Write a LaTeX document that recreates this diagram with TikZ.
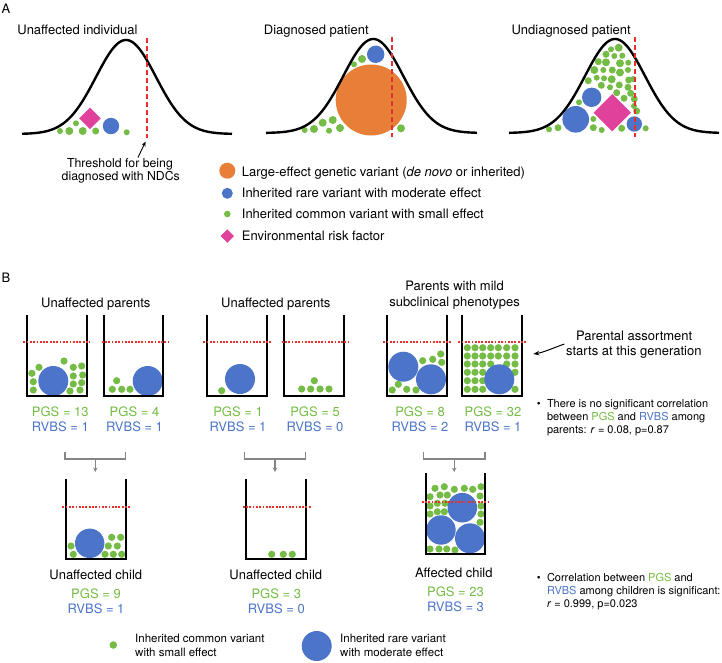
\documentclass[tikz,border=0pt]{standalone}
\usepackage{fontspec}
\setmainfont{TeX Gyre Heros}
\usetikzlibrary{arrows.meta}
\definecolor{vgreen}{HTML}{74BC45}
\definecolor{vblue}{HTML}{4C74C9}
\definecolor{vorange}{HTML}{E87F38}
\definecolor{vmag}{HTML}{E0429B}
\definecolor{vred}{HTML}{E8302A}
\definecolor{vgray}{HTML}{858585}
\begin{document}
\begin{tikzpicture}[x=1pt,y=-1pt,
  bellcurve/.style={line width=2.4pt,line join=round},
  thresh/.style={vred,line width=2pt,dash pattern=on 5pt off 3pt},
  beaker/.style={line width=1.8pt},
  cutoff/.style={vred,line width=1.8pt,dash pattern=on 1.8pt off 1.5pt},
  bracketline/.style={vgray,line width=1.4pt},
  bracketarrow/.style={vgray,line width=1.4pt,-{Stealth[length=4.5pt,width=4.5pt]}},
  ctr/.style={font=\fontsize{13}{15}\selectfont,inner sep=0pt,anchor=base},
  lft/.style={font=\fontsize{13}{15}\selectfont,inner sep=0pt,anchor=base west},
  pgs/.style={ctr,text=vgreen},
  rvbs/.style={ctr,text=vblue},
  thrtext/.style={font=\fontsize{12.3}{14}\selectfont,inner sep=0pt,anchor=base},
  bultext/.style={font=\fontsize{11}{13}\selectfont,inner sep=0pt,anchor=base west},
  legtext/.style={font=\fontsize{11.5}{13}\selectfont,inner sep=0pt,anchor=base west}
]
\useasboundingbox (0,0) rectangle (722,662);

% ---------------- Panel A ----------------
\node[lft] (labA) at (1.5,13.3) {A};
\node[ctr] (tA1) at (77.5,34.3) {Unaffected individual};
\node[ctr] (tA2) at (316.3,34.3) {Diagnosed patient};
\node[ctr] (tA3) at (571.2,34.3) {Undiagnosed patient};

% curve 1 contents
\fill[vmag] (90,107.5) -- (100.8,118.3) -- (90,129.1) -- (79.2,118.3) -- cycle;
\fill[vblue] (111,126) circle (8.2);
\foreach \px/\py/\r in {60/131/3, 69.3/131/4, 76/123.3/3, 82.7/131/4, 95.7/131/3.5, 126.7/132.3/3}
  \fill[vgreen] (\px,\py) circle (\r);

% curve 2 contents
\fill[vorange] (371.2,100) circle (35.5);
\fill[vblue] (375.7,54.3) circle (8.7);
\foreach \px/\py/\r in {362/59/4, 354/64.3/3, 304.7/130/3, 314/129/4, 322.7/122.7/4, 332.7/120/4, 329/130.7/3, 340/128/4, 401/128.3/4}
  \fill[vgreen] (\px,\py) circle (\r);

% curve 3 contents
\foreach \px/\py/\r in {611/49.3/3, 618.7/47.7/4, 606/54.3/3.5, 614.3/56/3, 622.3/55.7/3,
  598.3/61.7/3.5, 606/62.3/4, 620/63.3/4, 628.3/62.7/3,
  594.3/70/4, 603.3/70/3, 612.3/70/3.5, 620/72.5/4, 628/70/3,
  588.3/80.7/3.5, 596.7/77.7/3, 604/78.3/3, 611.7/79.3/4, 628.7/80/3.5, 633.3/79/3,
  601.3/85.3/3.5, 610/87.3/3, 619.3/85/3.5, 628/87.3/3.5,
  579/102.3/3, 616.7/92.7/3.5, 624/98.3/3.5, 630.7/93.3/3.5, 634.3/99/3.5, 634/106/3, 636.7/111/3.5,
  593.3/119/3, 593.3/127.7/3.5, 601.7/130/3, 621.7/128.3/3.5, 645.7/128.3/3, 549/129.3/3, 558/127.7/3.5}
  \fill[vgreen] (\px,\py) circle (\r);
\fill[vblue] (575.7,119.3) circle (13.3);
\fill[vblue] (591.7,97.3) circle (9.7);
\fill[vmag] (612.3,94) -- (631,112.7) -- (612.3,131.4) -- (593.6,112.7) -- cycle;
\fill[vblue] (634.3,124) circle (7.7);

% bell curves
\draw[bellcurve] plot[domain=22:232,samples=160] (\x,{134-94*exp(-((\x-126)^2)/1800)});
\draw[bellcurve] plot[domain=266:477,samples=160] (\x,{133-94*exp(-((\x-373.3)^2)/1800)});
\draw[bellcurve] plot[domain=509:719,samples=160] (\x,{133-94*exp(-((\x-615)^2)/1800)});

% thresholds
\coordinate (th1a) at (147,37.5); \coordinate (th1b) at (147,137.5);
\coordinate (th2a) at (392,37.3); \coordinate (th2b) at (392,136.5);
\coordinate (th3a) at (635,37.3); \coordinate (th3b) at (635,136.5);
\draw[thresh] (th1a) -- (th1b);
\draw[thresh] (th2a) -- (th2b);
\draw[thresh] (th3a) -- (th3b);

\node[thrtext] (thr1) at (120,167.3) {Threshold for being};
\node[thrtext] (thr2) at (120.8,180.7) {diagnosed with NDCs};
\coordinate (thrtail) at (138,157.5);
\coordinate (thrtip) at (145.6,141.5);
\draw[line width=0.9pt,-{Stealth[length=5pt,width=4pt]}] (thrtail) -- (thrtip);

% legend A
\fill[vorange] (227.3,170.7) circle (8);
\fill[vblue] (227.3,193.3) circle (5.5);
\fill[vgreen] (227.3,214) circle (3.3);
\fill[vmag] (227.3,229.3) -- (234,236) -- (227.3,242.7) -- (220.6,236) -- cycle;
\node[lft] (legA1) at (241.7,176.5) {Large-effect genetic variant (\textit{de novo} or inherited)};
\node[lft] (legA2) at (241.7,197.5) {Inherited rare variant with moderate effect};
\node[lft] (legA3) at (241.7,218.5) {Inherited common variant with small effect};
\node[lft] (legA4) at (241.7,240) {Environmental risk factor};

% ---------------- Panel B ----------------
\node[lft] (labB) at (1.5,282.7) {B};
\node[ctr] (tB1) at (95.8,307.3) {Unaffected parents};
\node[ctr] (tB2) at (275.8,307.3) {Unaffected parents};
\node[ctr] (tB3a) at (454.6,290.7) {Parents with mild};
\node[ctr] (tB3b) at (454.6,306) {subclinical phenotypes};

% beaker 1
\fill[vblue] (53.3,381) circle (15);
\foreach \px/\py in {39/367.3, 31.9/373.3, 33.3/381.7, 33.3/390, 64/361, 73.3/367.3, 81.7/366, 73.3/376, 82.7/375, 73.3/384, 81.7/382.7, 70/391, 80/390}
  \fill[vgreen] (\px,\py) circle (3.6);
\draw[beaker] (27.3,315) |- (87.3,396) -- (87.3,315);
\draw[cutoff] (23.3,342) -- (90,342);
% beaker 2
\fill[vblue] (147.7,381) circle (15);
\foreach \px/\py in {116.7/380.7, 112.3/389.3, 121.7/389.3, 130/389.3}
  \fill[vgreen] (\px,\py) circle (3.6);
\draw[beaker] (104,315) |- (163.3,396) -- (163.3,315);
\draw[cutoff] (101.7,342) -- (168.3,342);
% beaker 3
\fill[vblue] (240,379) circle (15);
\fill[vgreen] (221.7,390.7) circle (3.6);
\draw[beaker] (207.3,315) |- (267.3,396) -- (267.3,315);
\draw[cutoff] (203.3,342) -- (271.7,342);
% beaker 4
\foreach \px/\py in {314.3/380.7, 301.7/389, 310.7/389, 320/389, 329/389}
  \fill[vgreen] (\px,\py) circle (3.6);
\draw[beaker] (284,315) |- (344,396) -- (344,315);
\draw[cutoff] (281.7,342) -- (348.3,342);
% beaker 5
\fill[vblue] (403.3,366.7) circle (15);
\fill[vblue] (431,379.3) circle (15);
\foreach \px/\py in {422.7/360.7, 432.7/359.3, 440.7/354, 441.7/362.3, 398.3/384.3, 392.3/390, 406.7/389.3, 416/390}
  \fill[vgreen] (\px,\py) circle (3.6);
\draw[beaker] (387.3,315) |- (446.7,396) -- (446.7,315);
\draw[cutoff] (383.3,342) -- (451.7,342);
% beaker 6
\foreach \py in {347.7,356,364,372.3,380.7,389.3}{
  \foreach \px in {467.3,475,482.7,490.7,498.3,506.7,515}{
    \pgfmathsetmacro{\dd}{sqrt((\px-499.3)^2+(\py-379.3)^2)}
    \ifdim\dd pt>16pt \fill[vgreen] (\px,\py) circle (3.6);\fi
  }}
\fill[vblue] (499.3,379.3) circle (15);
\draw[beaker] (461.7,315) |- (521.7,396) -- (521.7,315);
\draw[cutoff] (458.3,342) -- (526.7,342);

% parent labels
\node[pgs] (p1) at (60.3,416.5) {PGS = 13};
\node[rvbs] (r1) at (60.3,431.3) {RVBS = 1};
\node[pgs] (p2) at (134.5,416.5) {PGS = 4};
\node[rvbs] (r2) at (134.5,431.3) {RVBS = 1};
\node[pgs] (p3) at (238,416.5) {PGS = 1};
\node[rvbs] (r3) at (238,431.3) {RVBS = 1};
\node[pgs] (p4) at (315,416.5) {PGS = 5};
\node[rvbs] (r4) at (315,431.3) {RVBS = 0};
\node[pgs] (p5) at (420,416.5) {PGS = 8};
\node[rvbs] (r5) at (420,431.3) {RVBS = 2};
\node[pgs] (p6) at (493,416.5) {PGS = 32};
\node[rvbs] (r6) at (493,431.3) {RVBS = 1};

% brackets
\coordinate (bk1) at (95.3,459); \coordinate (ch1) at (95.3,472);
\coordinate (bk2) at (275,459); \coordinate (ch2) at (275,472);
\coordinate (bk3) at (454.2,459); \coordinate (ch3) at (454.2,472);
\draw[bracketline] (65,451.7) |- (125.7,459) -- (125.7,451.7);
\draw[bracketline] (244.3,451.7) |- (305.7,459) -- (305.7,451.7);
\draw[bracketline] (423.3,451.7) |- (485,459) -- (485,451.7);
\draw[bracketarrow] (bk1) -- (ch1);
\draw[bracketarrow] (bk2) -- (ch2);
\draw[bracketarrow] (bk3) -- (ch3);

% child 1
\fill[vblue] (89.7,543.3) circle (14.7);
\foreach \px/\py in {71/546, 73.3/554.3, 111.7/537.3, 120.7/537.3, 108.3/546, 117.3/546, 105/554.3, 113.3/554.3, 121.7/554.3}
  \fill[vgreen] (\px,\py) circle (3.6);
\draw[beaker] (65.7,479) |- (125.7,559) -- (125.7,479);
\draw[cutoff] (62.3,507.3) -- (130.7,507.3);
% child 2
\foreach \px/\py in {271.7/554.3, 283.3/554.3, 292.3/554.3}
  \fill[vgreen] (\px,\py) circle (3.6);
\draw[beaker] (246,479) |- (306,559) -- (306,479);
\draw[cutoff] (242.7,507.3) -- (310.7,507.3);
% child 3
\foreach \px/\py in {435/488.3, 444.3/486.7, 454.3/489.3, 464.3/488.3, 472.7/489.3, 481/486.7,
  430/496.7, 440/495, 447.3/495, 480/496,
  430/506, 437.3/503.3, 445/503.3, 430/514, 437.3/511.7, 444.3/511.7,
  481/506, 481/514, 480/522.3, 430/549, 439/549, 446.7/549, 455/550}
  \fill[vgreen] (\px,\py) circle (3.6);
\fill[vblue] (462.3,507.7) circle (14.8);
\fill[vblue] (441,530) circle (14.7);
\fill[vblue] (470,538.3) circle (15);
\draw[beaker] (426,473.3) |- (485,554) -- (485,473.3);
\draw[cutoff] (421.7,502) -- (489.3,502);

% child labels
\node[ctr] (c1t) at (95.8,579.3) {Unaffected child};
\node[pgs] (c1p) at (96,598.3) {PGS = 9};
\node[rvbs] (c1r) at (96,613.3) {RVBS = 1};
\node[ctr] (c2t) at (275.8,579.3) {Unaffected child};
\node[pgs] (c2p) at (276.3,598.3) {PGS = 3};
\node[rvbs] (c2r) at (276.3,613.3) {RVBS = 0};
\node[ctr] (c3t) at (453.8,577.3) {Affected child};
\node[pgs] (c3p) at (455.5,596.7) {PGS = 23};
\node[rvbs] (c3r) at (455.5,611.7) {RVBS = 3};

% parental assortment note
\node[ctr] (pa1) at (634.2,340.7) {Parental assortment};
\node[ctr] (pa2) at (633.8,355.7) {starts at this generation};
\coordinate (patail) at (564.3,344);
\coordinate (pahead) at (533.3,354);
\draw[line width=1pt,-{Stealth[length=6pt,width=4.5pt]}] (patail) .. controls (552,348.5) and (543,352.5) .. (pahead);

% bullets
\node[bultext] (b1d) at (536.6,407.7) {\textbullet};
\node[bultext] (b1a) at (546.8,407.7) {There is no significant correlation};
\node[bultext] (b1b) at (546.8,420.7) {between \textcolor{vgreen}{PGS} and \textcolor{vblue}{RVBS} among};
\node[bultext] (b1c) at (546.8,433.7) {parents: \textit{r} = 0.08, p=0.87};
\node[bultext] (b2d) at (536.6,581.7) {\textbullet};
\node[bultext] (b2a) at (546.8,581.7) {Correlation between \textcolor{vgreen}{PGS} and};
\node[bultext] (b2b) at (546.8,594.7) {\textcolor{vblue}{RVBS} among children is significant:};
\node[bultext] (b2c) at (546.8,607.7) {\textit{r} = 0.999, p=0.023};

% bottom legend
\fill[vgreen] (113.3,645) circle (3.8);
\node[legtext] (lg1a) at (135,642.7) {Inherited common variant};
\node[legtext] (lg1b) at (135,656) {with small effect};
\fill[vblue] (316.7,646) circle (15);
\node[legtext] (lg2a) at (340,642.7) {Inherited rare variant};
\node[legtext] (lg2b) at (340,656) {with moderate effect};
\end{tikzpicture}
\end{document}
